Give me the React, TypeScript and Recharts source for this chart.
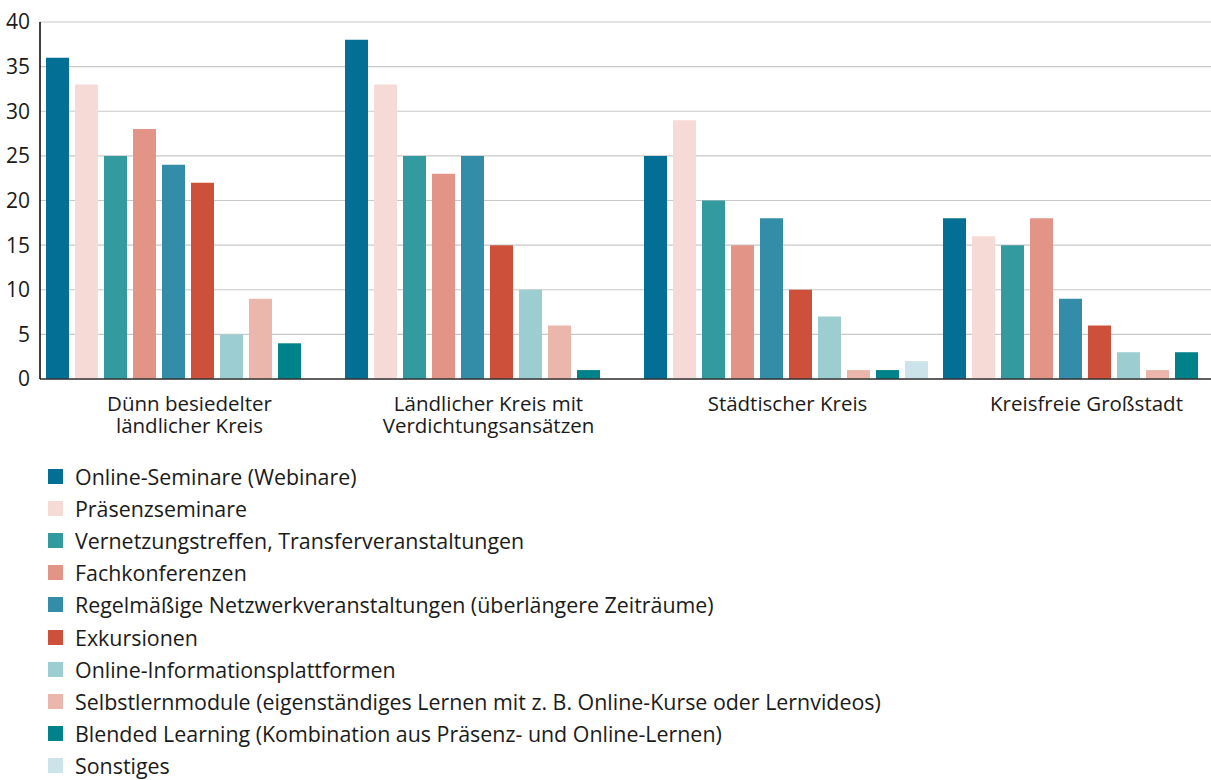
import { BarChart, Bar, XAxis, YAxis, CartesianGrid } from 'recharts'

const categories = [
  'Dünn besiedelter ländlicher Kreis',
  'Ländlicher Kreis mit Verdichtungsansätzen',
  'Städtischer Kreis',
  'Kreisfreie Großstadt',
]

const categoryLines: Record<string, string[]> = {
  'Dünn besiedelter ländlicher Kreis': ['Dünn besiedelter', 'ländlicher Kreis'],
  'Ländlicher Kreis mit Verdichtungsansätzen': ['Ländlicher Kreis mit', 'Verdichtungsansätzen'],
  'Städtischer Kreis': ['Städtischer Kreis'],
  'Kreisfreie Großstadt': ['Kreisfreie Großstadt'],
}

const seriesNames = [
  'Online-Seminare (Webinare)',
  'Präsenzseminare',
  'Vernetzungstreffen, Transferveranstaltungen',
  'Fachkonferenzen',
  'Regelmäßige Netzwerkveranstaltungen (überlängere Zeiträume)',
  'Exkursionen',
  'Online-Informationsplattformen',
  'Selbstlernmodule (eigenständiges Lernen mit z. B. Online-Kurse oder Lernvideos)',
  'Blended Learning (Kombination aus Präsenz- und Online-Lernen)',
  'Sonstiges',
]

const seriesColors = [
  '#046f94',
  '#f6dad5',
  '#339b9f',
  '#e29587',
  '#338ca8',
  '#cd513a',
  '#9bcdd1',
  '#ebb6ac',
  '#00828a',
  '#cce3ea',
]

// one array per category, values in series order
const duennBesiedelt = [36, 33, 25, 28, 24, 22, 5, 9, 4, 0]
const laendlich = [38, 33, 25, 23, 25, 15, 10, 6, 1, 0]
const staedtisch = [25, 29, 20, 15, 18, 10, 7, 1, 1, 2]
const grossstadt = [18, 16, 15, 18, 9, 6, 3, 1, 3, 0]

const yTicks = [0, 5, 10, 15, 20, 25, 30, 35, 40]

const valuesByCategory = [duennBesiedelt, laendlich, staedtisch, grossstadt]

const chartData = categories.map((name, ci) => {
  const row: Record<string, string | number> = { name }
  seriesNames.forEach((s, si) => {
    row[s] = valuesByCategory[ci][si]
  })
  return row
})

const FONT = '"Open Sans", sans-serif'
const TEXT = '#1a1a1a'

function CategoryTick(props: any) {
  const { x, y, payload } = props
  const lines = categoryLines[payload.value] || [payload.value]
  return (
    <g transform={`translate(${x},${y})`}>
      {lines.map((line, i) => (
        <text
          key={i}
          x={0}
          y={24 + i * 22}
          textAnchor="middle"
          fill={TEXT}
          fontSize={20.5}
          fontFamily={FONT}
        >
          {line}
        </text>
      ))}
    </g>
  )
}

function LegendList() {
  return (
    <div
      style={{
        position: 'absolute',
        left: 48,
        top: 460,
        fontFamily: FONT,
        fontSize: 21.4,
        color: TEXT,
      }}
    >
      {seriesNames.map((s, i) => (
        <div
          key={s}
          style={{ display: 'flex', alignItems: 'center', height: 32.2, whiteSpace: 'nowrap' }}
        >
          <span
            style={{
              display: 'inline-block',
              width: 15,
              height: 15,
              background: seriesColors[i],
              marginRight: 12,
            }}
          />
          <span>{s}</span>
        </div>
      ))}
    </div>
  )
}

export default function App() {
  return (
    <div
      style={{
        position: 'absolute',
        left: 0,
        top: 0,
        width: 1211,
        height: 780,
        overflow: 'hidden',
        background: '#fff',
      }}
    >
      <BarChart
        width={1236}
        height={460}
        data={chartData}
        margin={{ top: 22, right: 0, left: 0, bottom: 21 }}
        barCategoryGap={6}
        barGap={6}
      >
        <CartesianGrid vertical={false} stroke="#c8c8c8" strokeWidth={1.2} />
        <XAxis
          dataKey="name"
          height={60}
          tick={<CategoryTick />}
          tickLine={false}
          axisLine={{ stroke: '#333', strokeWidth: 1.5 }}
          interval={0}
        />
        <YAxis
          width={40}
          domain={[0, 40]}
          ticks={yTicks}
          tickLine={false}
          axisLine={{ stroke: '#000', strokeWidth: 1.5 }}
          tick={{ fill: TEXT, fontSize: 21, fontFamily: FONT }}
          tickMargin={4}
        />
        {seriesNames.map((s, i) => (
          <Bar key={s} dataKey={s} fill={seriesColors[i]} isAnimationActive={false} />
        ))}
      </BarChart>
      <LegendList />
    </div>
  )
}
